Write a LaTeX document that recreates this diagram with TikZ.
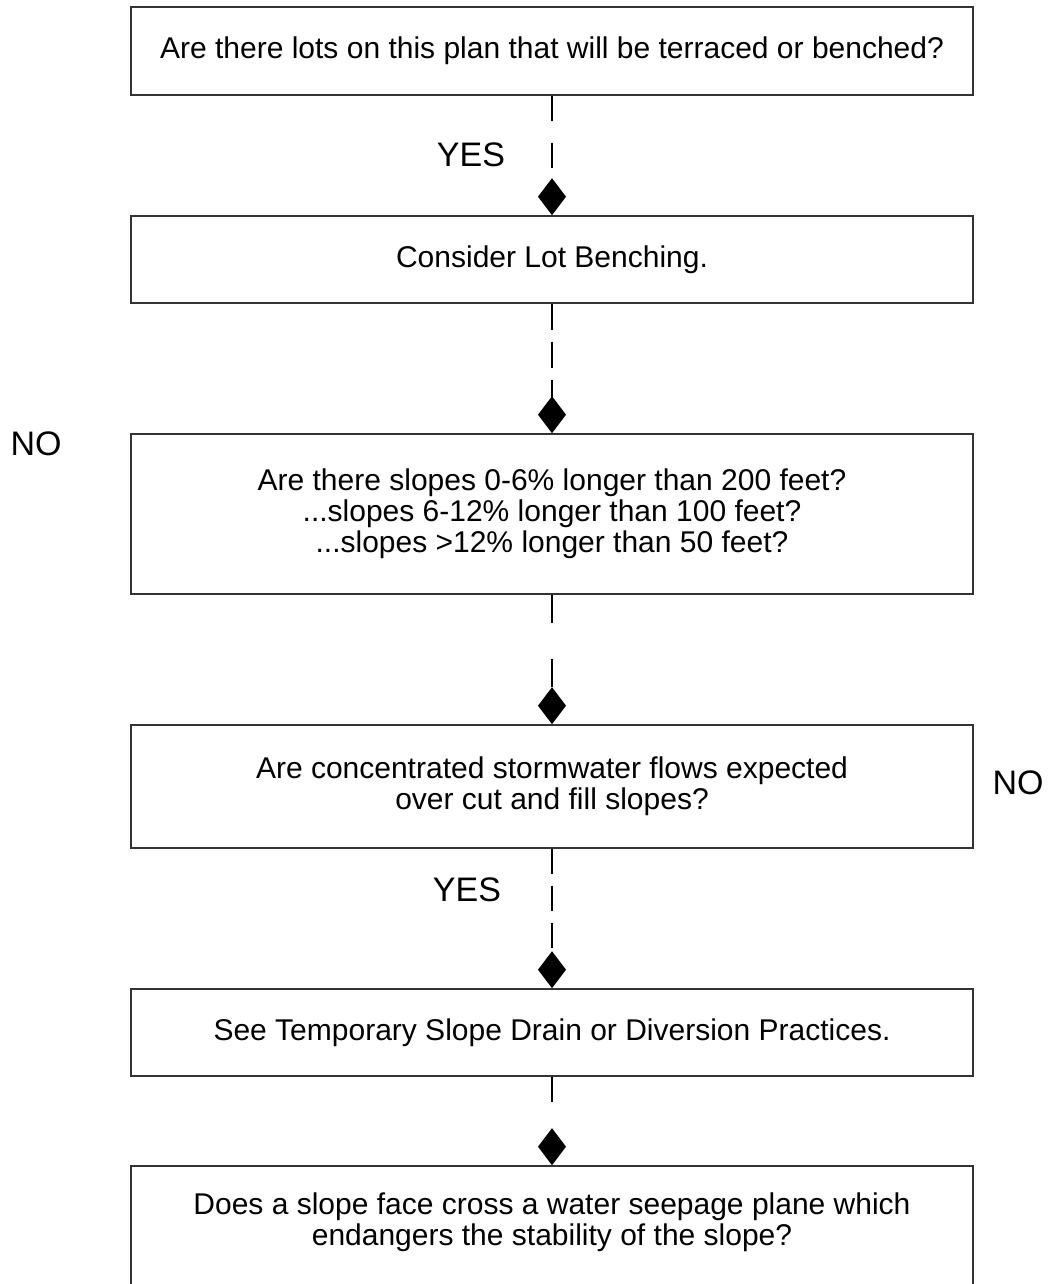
\documentclass[tikz,border=0pt]{standalone}
\usepackage{fontspec}
\setmainfont{Liberation Sans}
\usetikzlibrary{arrows.meta}
\begin{document}
\begin{tikzpicture}[x=1pt,y=-1pt,
  box/.style={draw=black!80, line width=1.6pt, minimum width=842pt, inner sep=0pt, align=center, font=\fontsize{30}{31}\selectfont},
  boxtext/.style={align=center, inner sep=0pt, font=\fontsize{30}{31}\selectfont},
  conn/.style={line width=2.6pt, -{Diamond[length=37pt,width=28pt]}},
  lab/.style={font=\fontsize{34}{36}\selectfont, inner sep=0pt}]
\useasboundingbox (0,0) rectangle (1052,1284);
\clip (0,0) rectangle (1052,1284);
\node[box, minimum height=88pt] (b1) at (552,51) {Are there lots on this plan that will be terraced or benched?};
\node[box, minimum height=87pt] (b2) at (552,259.5) {Consider Lot Benching.};
\node[box, minimum height=160pt] (b3) at (552,514) {Are there slopes 0-6\% longer than 200 feet?\\...slopes 6-12\% longer than 100 feet?\\...slopes >12\% longer than 50 feet?};
\node[box, minimum height=123pt] (b4) at (552,786.5) {Are concentrated stormwater flows expected\\over cut and fill slopes?};
\node[box, minimum height=87pt] (b5) at (552,1032.5) {See Temporary Slope Drain or Diversion Practices.};
\node[box, minimum height=134pt] (b6) at (552,1233) {};
\node[boxtext] (t6) at (552,1222) {Does a slope face cross a water seepage plane which\\endangers the stability of the slope?};

\draw[conn, dash pattern=on 25pt off 22pt] (b1.south) -- (b2.north);
\draw[conn, dash pattern=on 26pt off 12pt] (b2.south) -- (b3.north);
\draw[conn, dash pattern=on 28pt off 36pt] (b3.south) -- (b4.north);
\draw[conn, dash pattern=on 25pt off 12pt] (b4.south) -- (b5.north);
\draw[conn, dash pattern=on 25pt off 40pt] (b5.south) -- (b6.north);

\node[lab] (yes1) at (471,155) {YES};
\node[lab] (yes2) at (467,890) {YES};
\node[lab] (no1) at (36,444) {NO};
\node[lab] (no2) at (1018,783) {NO};
\end{tikzpicture}
\end{document}
